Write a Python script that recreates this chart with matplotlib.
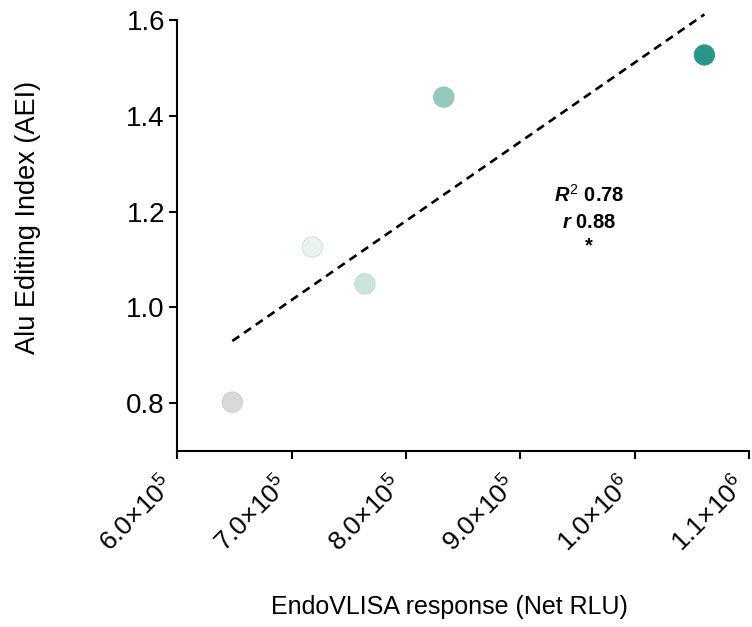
import numpy as np
import matplotlib
matplotlib.use("Agg")
import matplotlib.pyplot as plt
from matplotlib.transforms import ScaledTranslation

plt.rcParams['font.family'] = ['Liberation Sans', 'DejaVu Sans']
plt.rcParams['mathtext.fontset'] = 'custom'
plt.rcParams['mathtext.rm'] = 'Liberation Sans'
plt.rcParams['mathtext.it'] = 'Liberation Sans:italic:bold'
plt.rcParams['mathtext.bf'] = 'Liberation Sans:bold'

# EndoVLISA response (Net RLU) vs Alu Editing Index per sample
net_rlu = [6.48e5, 7.18e5, 7.64e5, 8.33e5, 1.061e6]
aei = [0.802, 1.126, 1.049, 1.439, 1.527]
point_colors = ['#d9d9d9', '#e9f3ef', '#cce5dc', '#94c8bd', '#2a968a']
edge_colors = ['#c8c8c8', '#cfdcd7', '#bcd8cf', '#8cc0b5', '#2a968a']

x_ticks = [6.0e5, 7.0e5, 8.0e5, 9.0e5, 1.0e6, 1.1e6]
x_tick_labels = [r'$6.0{\times}10^{5}$', r'$7.0{\times}10^{5}$', r'$8.0{\times}10^{5}$',
                 r'$9.0{\times}10^{5}$', r'$1.0{\times}10^{6}$', r'$1.1{\times}10^{6}$']
y_ticks = [0.8, 1.0, 1.2, 1.4, 1.6]
y_tick_labels = ['0.8', '1.0', '1.2', '1.4', '1.6']

x = np.array(net_rlu)
y = np.array(aei)
slope, intercept = np.polyfit(x, y, 1)

fig = plt.figure(figsize=(7.52, 6.27), dpi=100)
ax = fig.add_axes([0.236, 0.2807, 0.760, 0.6874])

xs = np.array([x.min(), x.max()])
ax.plot(xs, slope * xs + intercept, ls=(0, (3.2, 2.2)), color='black', lw=1.9,
        clip_on=False, zorder=2)
ax.scatter(x, y, s=215, c=point_colors, edgecolors=edge_colors,
           linewidths=0.6, zorder=3, clip_on=False)

ax.text(0.96e6, 1.234, r'$R^{2}$ 0.78', ha='center', va='center',
        fontsize=14.5, fontweight='bold')
ax.text(0.96e6, 1.178, r'$r$ 0.88', ha='center', va='center',
        fontsize=14.5, fontweight='bold')
ax.text(0.96e6, 1.128, '*', ha='center', va='center',
        fontsize=14.5, fontweight='bold')

ax.set_xlim(6.0e5, 1.1e6)
ax.set_ylim(0.7, 1.6)

for side in ('top', 'right'):
    ax.spines[side].set_visible(False)
for side in ('left', 'bottom'):
    ax.spines[side].set_linewidth(1.5)
ax.tick_params(axis='both', direction='out', length=6, width=1.5, color='black')
ax.tick_params(axis='x', pad=12)
ax.tick_params(axis='y', pad=3)

ax.set_xticks(x_ticks)
ax.set_xticklabels(x_tick_labels, rotation=45, ha='right', va='center',
                   rotation_mode='anchor', fontsize=19)
ax.set_yticks(y_ticks)
ax.set_yticklabels(y_tick_labels, fontsize=20)

# nudge the rotated tick labels slightly left and down
shift = ScaledTranslation(-5 / 72, -3.5 / 72, fig.dpi_scale_trans)
for lbl in ax.get_xticklabels():
    lbl.set_transform(lbl.get_transform() + shift)

ax.set_xlabel('EndoVLISA response (Net RLU)', fontsize=18)
ax.set_ylabel('Alu Editing Index (AEI)', fontsize=19.5)
ax.xaxis.set_label_coords((449 - 177.5) / (749 - 177.5), -(607 - 451) / 431, transform=ax.transAxes)
ax.yaxis.set_label_coords(-(177.5 - 28) / (749 - 177.5), (627 - 217 - 176) / 431.0, transform=ax.transAxes)
ax.xaxis.label.set_va('center')
ax.yaxis.label.set_va('center')

fig.savefig('out.png', dpi=100)
